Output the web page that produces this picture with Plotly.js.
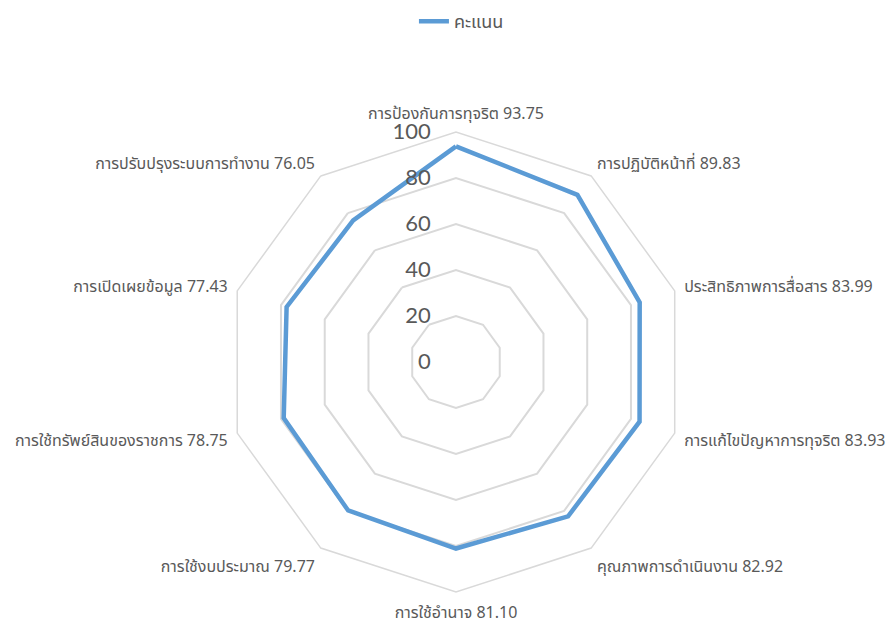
<!DOCTYPE html>
<html><head><meta charset="utf-8">
<script src="https://cdn.plot.ly/plotly-3.0.1.min.js"></script>
<style>html,body{margin:0;padding:0;background:#fff}</style>
</head><body>
<div id="chart" style="width:896px;height:625px"></div>
<script>
const categories = ["การป้องกันการทุจริต 93.75","การปฏิบัติหน้าที่ 89.83","ประสิทธิภาพการสื่อสาร 83.99","การแก้ไขปัญหาการทุจริต 83.93","คุณภาพการดำเนินงาน 82.92","การใช้อำนาจ 81.10","การใช้งบประมาณ 79.77","การใช้ทรัพย์สินของราชการ 78.75","การเปิดเผยข้อมูล 77.43","การปรับปรุงระบบการทำงาน 76.05"];
const scores = [93.75,89.83,83.99,83.93,82.92,81.10,79.77,78.75,77.43,76.05];
const seriesName = "คะแนน";
const radialTicks = [0,20,40,60,80,100];

const font = "Tahoma, 'Noto Sans Thai', 'Leelawadee UI', sans-serif";
Plotly.newPlot("chart", [{
  type: "scatterpolar",
  r: scores.concat([scores[0]]),
  theta: categories.concat([categories[0]]),
  mode: "lines",
  name: seriesName,
  line: {color: "#5B9BD5", width: 4.5}
}], {
  width: 896, height: 625,
  margin: {l:0, r:0, t:0, b:0},
  paper_bgcolor: "#fff",
  font: {family: font, color: "#595959"},
  showlegend: true,
  legend: {orientation: "h", x: 0.515, xanchor: "center", y: 0.995, yanchor: "top", font: {size: 18, color: "#595959"}},
  polar: {
    domain: {x: [0.2522, 0.7656], y: [0.0528, 0.7888]},
    gridshape: "linear",
    bgcolor: "#fff",
    radialaxis: {
      range: [0, 100], tickvals: radialTicks, ticktext: radialTicks.map(String),
      angle: 90, tickangle: 90, side: "counterclockwise",
      showline: false, ticks: "outside", ticklen: 17, tickcolor: "rgba(0,0,0,0)",
      gridcolor: "#d9d9d9", gridwidth: 1.5,
      tickfont: {size: 22, color: "#595959", family: "Lato, Calibri, 'Liberation Sans', sans-serif"}
    },
    angularaxis: {
      direction: "clockwise", rotation: 90,
      showgrid: false, showline: true, linecolor: "#d9d9d9", linewidth: 1.5,
      ticks: "outside", ticklen: 6, tickcolor: "rgba(0,0,0,0)",
      tickfont: {size: 16, color: "#595959"}
    }
  }
}, {displayModeBar: false});
</script>
</body></html>
